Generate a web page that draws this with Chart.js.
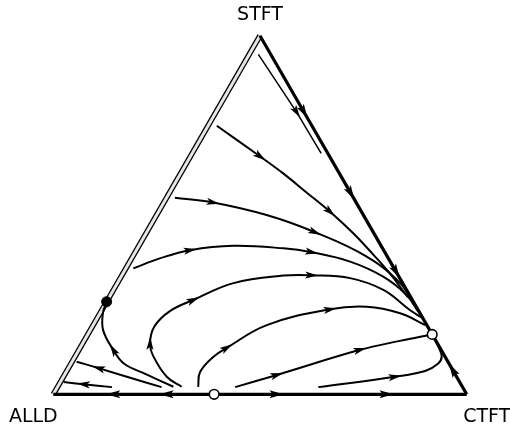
<!DOCTYPE html>
<html>
<head>
<meta charset="utf-8">
<script src="https://cdn.jsdelivr.net/npm/chart.js@4"></script>
<style>
  html, body { margin: 0; padding: 0; background: #fff; }
  #wrap { width: 510px; height: 428px; position: relative; }
</style>
</head>
<body>
<div id="wrap"><canvas id="simplex"></canvas></div>
<script>
// Strategy simplex: ALLD (bottom left), STFT (top), CTFT (bottom right).
// Every state is written as [STFT share, CTFT share]; the ALLD share is the rest.
const vertexNames = ['ALLD', 'STFT', 'CTFT'];

// rest points
const stableRest = [[0.258, 0]];
const unstableRest = [[0, 0.389], [0.167, 0.833]];

// simplex edges
const edgeAlldStft = [[0, 0], [1, 0]];
const edgeStftDown = [[1, 0], [0.788, 0.212], [0.561, 0.439], [0.342, 0.658], [0.167, 0.833]];
const edgeCtftUp = [[0, 1], [0.068, 0.932], [0.167, 0.833]];
const edgeBottomLeft = [[0, 0.389], [0, 0.274], [0, 0.145], [0, 0]];
const edgeBottomRight = [[0, 0.389], [0, 0.540], [0, 0.806], [0, 1]];

// interior orbits
const orbitTop = [[0.948, 0.022], [0.787, 0.195], [0.672, 0.312]];
const orbit1 = [[0.749, 0.021], [0.663, 0.169], [0.616, 0.248], [0.563, 0.331], [0.509, 0.415],
                [0.449, 0.501], [0.389, 0.580], [0.336, 0.647], [0.271, 0.722]];
const orbit2 = [[0.548, 0.020], [0.535, 0.119], [0.500, 0.266], [0.452, 0.407], [0.384, 0.566],
                [0.310, 0.684], [0.249, 0.748]];
const orbit3 = [[0.351, 0.018], [0.379, 0.068], [0.402, 0.130], [0.414, 0.228], [0.407, 0.353],
                [0.396, 0.427], [0.370, 0.533], [0.328, 0.634], [0.277, 0.716], [0.232, 0.766]];
const orbit4 = [[0.021, 0.300], [0.049, 0.250], [0.105, 0.190], [0.142, 0.163], [0.189, 0.150],
                [0.232, 0.166], [0.263, 0.207], [0.310, 0.281], [0.331, 0.391], [0.332, 0.459],
                [0.324, 0.556], [0.291, 0.653], [0.235, 0.745], [0.213, 0.786]];
const orbit5 = [[0.021, 0.340], [0.062, 0.324], [0.105, 0.335], [0.130, 0.355], [0.193, 0.420],
                [0.237, 0.551], [0.244, 0.636], [0.226, 0.726], [0.193, 0.803]];
const orbit6 = [[0.020, 0.430], [0.054, 0.514], [0.124, 0.680], [0.149, 0.764], [0.167, 0.833]];
const orbit7 = [[0.020, 0.631], [0.049, 0.802], [0.065, 0.867], [0.085, 0.888], [0.105, 0.887],
                [0.133, 0.865], [0.167, 0.833]];
const orbitToStable = [[0.021, 0.280], [0.057, 0.194], [0.085, 0.129], [0.124, 0.083], [0.179, 0.031],
                       [0.226, 0.007], [0.258, 0]];
const orbitLeft1 = [[0.020, 0.252], [0.046, 0.163], [0.073, 0.073], [0.091, 0.011]];
const orbitLeft2 = [[0.020, 0.132], [0.028, 0.059], [0.034, 0.008]];

// barycentric -> plane (unit equilateral triangle)
const H = Math.sqrt(3) / 2;
const toXY = ([s, c]) => ({ x: c + s / 2, y: s * H });

function path(pts, arrows, extra) {
  return Object.assign({
    data: pts.map(toXY),
    showLine: true,
    pointRadius: 0,
    pointHoverRadius: 0,
    borderColor: '#000',
    backgroundColor: '#000',
    borderWidth: 2,
    tension: 0.4,
    fill: false,
    clip: false,
    arrows: arrows,
    arrowLen: 13,
    arrowHalf: 3.6
  }, extra || {});
}

const edgeStyle = { borderWidth: 3.2, tension: 0, arrowLen: 14, arrowHalf: 4 };

const datasets = [
  { data: stableRest.map(toXY), showLine: false, pointRadius: 5, pointBackgroundColor: '#000',
    pointBorderColor: '#000', pointBorderWidth: 1, clip: false },
  { data: unstableRest.map(toXY), showLine: false, pointRadius: 4.8, pointBackgroundColor: '#fff',
    pointBorderColor: '#000', pointBorderWidth: 1.6, clip: false },

  path(orbitTop, [1], { borderWidth: 1.5, tension: 0 }),
  path(orbit1, [1, 4]),
  path(orbit2, [1, 3]),
  path(orbit3, [2, 5]),
  path(orbit4, [3, 6, 9]),
  path(orbit5, [3, 5]),
  path(orbit6, [1, 2]),
  path(orbit7, [1]),
  path(orbitToStable, [3]),
  path(orbitLeft1, [2]),
  path(orbitLeft2, [1]),

  path(edgeStftDown, [1, 2, 3], edgeStyle),
  path(edgeCtftUp, [1], edgeStyle),
  path(edgeBottomLeft, [1, 2], edgeStyle),
  path(edgeBottomRight, [1, 2], edgeStyle),

  // line of rest points: light core inside a dark outline
  path(edgeAlldStft, [], { borderWidth: 3, borderColor: '#e6e6e6', tension: 0 }),
  path(edgeAlldStft, [], { borderWidth: 5.6, tension: 0 })
];

const arrowPlugin = {
  id: 'flowArrows',
  afterDatasetDraw(chart, args) {
    const ds = chart.data.datasets[args.index];
    if (!ds.arrows || !ds.arrows.length) return;
    const els = args.meta.data;
    const ctx = chart.ctx;
    const L = ds.arrowLen, w = ds.arrowHalf;
    ctx.save();
    ctx.fillStyle = '#000';
    ds.arrows.forEach(i => {
      const p = els[i];
      const a = els[i - 1] || p, b = els[i + 1] || p;
      const ang = Math.atan2(b.y - a.y, b.x - a.x);
      ctx.save();
      ctx.translate(p.x, p.y);
      ctx.rotate(ang);
      ctx.beginPath();
      ctx.moveTo(L / 2, 0);
      ctx.lineTo(-L / 2, w);
      ctx.lineTo(-L / 2 + 3, 0);
      ctx.lineTo(-L / 2, -w);
      ctx.closePath();
      ctx.fill();
      ctx.restore();
    });
    ctx.restore();
  }
};

const labelPlugin = {
  id: 'vertexLabels',
  afterDraw(chart) {
    const { ctx, scales } = chart;
    const px = (pt) => ({ x: scales.x.getPixelForValue(pt.x), y: scales.y.getPixelForValue(pt.y) });
    const corners = [toXY([0, 0]), toXY([1, 0]), toXY([0, 1])];
    const offsets = [[-20, 22.5], [0, -21], [20, 22.5]];
    ctx.save();
    ctx.font = '19px "DejaVu Sans", sans-serif';
    ctx.fillStyle = '#000';
    ctx.textAlign = 'center';
    ctx.textBaseline = 'middle';
    vertexNames.forEach((name, k) => {
      const p = px(corners[k]);
      ctx.fillText(name, p.x + offsets[k][0], p.y + offsets[k][1]);
    });
    ctx.restore();
  }
};

new Chart(document.getElementById('simplex'), {
  type: 'scatter',
  data: { datasets },
  options: {
    responsive: true,
    maintainAspectRatio: false,
    animation: false,
    events: [],
    layout: { padding: { left: 53.3, right: 43.3, top: 35.7, bottom: 33.7 } },
    plugins: { legend: { display: false }, tooltip: { enabled: false } },
    scales: {
      x: { type: 'linear', min: 0, max: 1, display: false },
      y: { type: 'linear', min: 0, max: H, display: false }
    }
  },
  plugins: [arrowPlugin, labelPlugin]
});
</script>
</body>
</html>
